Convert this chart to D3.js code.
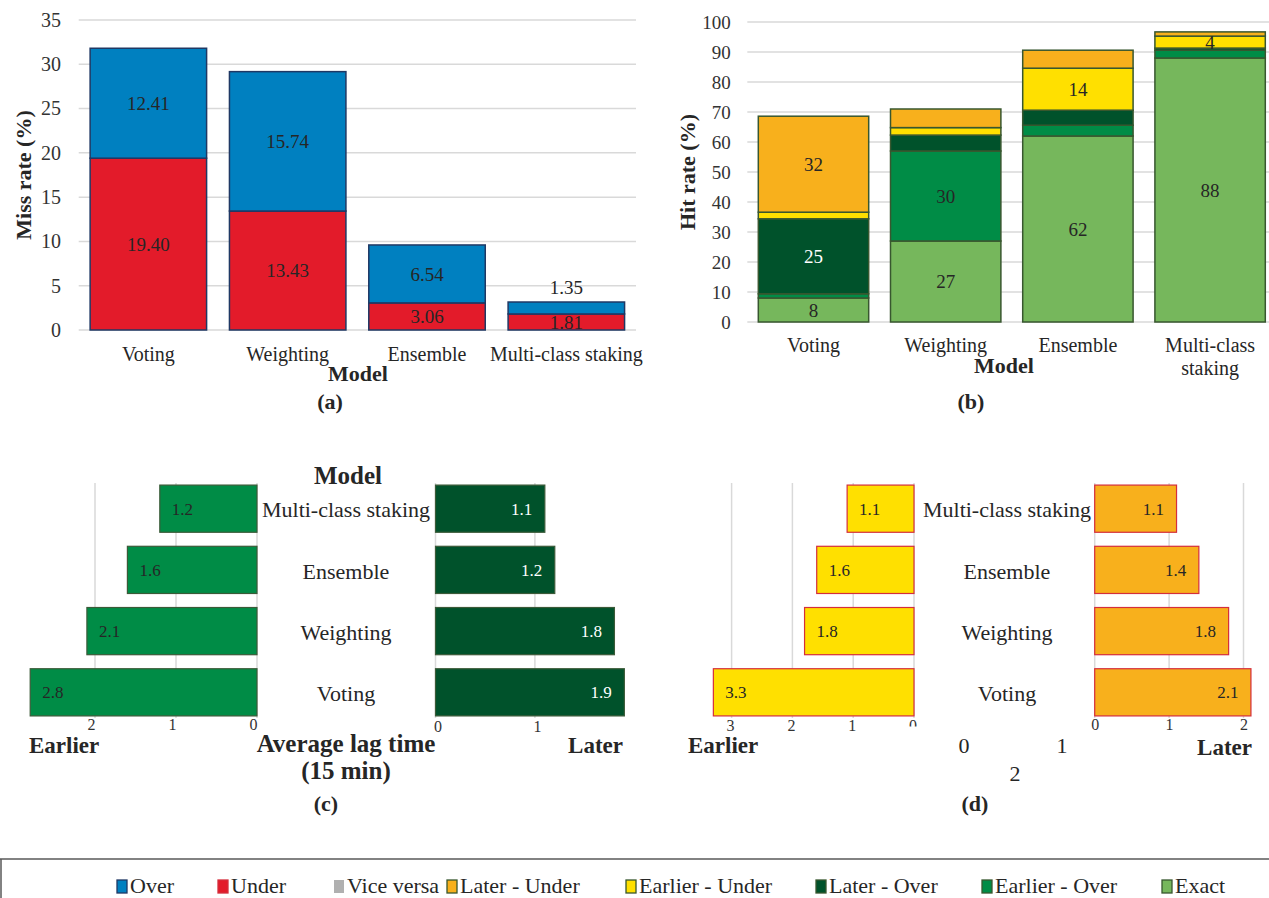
<!DOCTYPE html>
<html>
<head>
<meta charset="utf-8">
<script src="https://cdn.jsdelivr.net/npm/d3@7"></script>
<style>
  html, body { margin: 0; padding: 0; background: #fff; }
  svg { display: block; }
</style>
</head>
<body>
<svg id="fig" width="1269" height="898"></svg>
<script>
// ---------- data ----------
const models = ["Voting", "Weighting", "Ensemble", "Multi-class staking"];

// (a) miss rate, %
const missUnder = [19.40, 13.43, 3.06, 1.81];
const missOver  = [12.41, 15.74, 6.54, 1.35];
const missTicks = [0, 5, 10, 15, 20, 25, 30, 35];

// (b) hit rate, %
const hitExact        = [8, 27, 62, 88];
const hitEarlierOver  = [1.4, 30, 3.6, 2.6];
const hitLaterOver    = [25, 5.3, 5, 0.7];
const hitEarlierUnder = [2.2, 2.5, 14, 4];
const hitLaterUnder   = [32, 6.2, 6, 1.4];
const hitTicks = [0, 10, 20, 30, 40, 50, 60, 70, 80, 90, 100];
// segments that carry a value label
const hitLabelled = [
  ["Exact", "Voting"], ["Later - Over", "Voting"], ["Later - Under", "Voting"],
  ["Exact", "Weighting"], ["Earlier - Over", "Weighting"],
  ["Exact", "Ensemble"], ["Earlier - Under", "Ensemble"],
  ["Exact", "Multi-class staking"], ["Earlier - Under", "Multi-class staking"]
];

// (c), (d) average lag time, in 15-min steps
const lagEarlierOver  = [2.8, 2.1, 1.6, 1.2];
const lagLaterOver    = [1.9, 1.8, 1.2, 1.1];
const lagEarlierUnder = [3.3, 1.8, 1.6, 1.1];
const lagLaterUnder   = [2.1, 1.8, 1.4, 1.1];
const lagTicksC_left  = [0, 1, 2];
const lagTicksC_right = [0, 1];
const lagTicksD_left  = [0, 1, 2, 3];
const lagTicksD_right = [0, 1, 2];

const legendNames = ["Over", "Under", "Vice versa", "Later - Under", "Earlier - Under",
                     "Later - Over", "Earlier - Over", "Exact"];

// ---------- styles ----------
const FONT = "'Liberation Serif', 'Times New Roman', Tinos, serif";
const COL = {
  "Over": "#0080c0", "Under": "#e31b2a", "Vice versa": "#b0b0b0",
  "Later - Under": "#f8b01c", "Earlier - Under": "#ffe000",
  "Later - Over": "#00522b", "Earlier - Over": "#008c46", "Exact": "#76b75c"
};
const NAVY = "#1f3864", DKGREEN = "#38572f", CRIMSON = "#d42e3c";
const GRID = "#d9d9d9", TXT = "#262626";

const svg = d3.select("#fig").style("font-family", FONT);

function styleAxis(g, size, color) {
  g.select(".domain").remove();
  g.selectAll("line").remove();
  g.attr("font-family", null).attr("font-size", null);
  g.selectAll("text").attr("font-size", size).attr("fill", color || TXT);
}

function title(x, y, txt, opts = {}) {
  return svg.append("text")
    .attr("x", x).attr("y", y)
    .attr("text-anchor", opts.anchor || "middle")
    .attr("font-weight", opts.weight || "bold")
    .attr("font-size", opts.size || 22)
    .attr("fill", opts.fill || TXT)
    .text(txt);
}

// ---------- (a) Miss rate ----------
(function () {
  const x = d3.scaleBand().domain(models).range([78.7, 636]).paddingInner(0.164).paddingOuter(0.082);
  const y = d3.scaleLinear().domain([0, 35]).range([330, 20]);
  const g = svg.append("g");

  g.selectAll("line.grid").data(missTicks).join("line")
    .attr("x1", 78.7).attr("x2", 636)
    .attr("y1", d => y(d)).attr("y2", d => y(d))
    .attr("stroke", GRID).attr("stroke-width", 1.5);

  g.append("g").attr("transform", "translate(78.7,0)")
    .call(d3.axisLeft(y).tickValues(missTicks).tickSize(0).tickPadding(17.7))
    .call(a => styleAxis(a, 20, "#333"));

  g.append("g").attr("transform", "translate(0,330)")
    .call(d3.axisBottom(x).tickSize(0).tickPadding(16.8))
    .call(a => styleAxis(a, 20, TXT));

  const rows = models.map((m, i) => ({ model: m, Under: missUnder[i], Over: missOver[i] }));
  const series = d3.stack().keys(["Under", "Over"])(rows);

  g.selectAll("g.layer").data(series).join("g")
    .attr("fill", s => COL[s.key])
    .selectAll("rect").data(s => s).join("rect")
    .attr("x", d => x(d.data.model)).attr("width", x.bandwidth())
    .attr("y", d => y(d[1])).attr("height", d => y(d[0]) - y(d[1]))
    .attr("stroke", NAVY).attr("stroke-width", 1.5);

  const fmt = d3.format(".2f");
  series.forEach(s => {
    g.selectAll(null).data(s).join("text")
      .attr("x", d => x(d.data.model) + x.bandwidth() / 2)
      .attr("y", d => {
        const h = y(d[0]) - y(d[1]);
        return h < 14 ? y(d[1]) - 15 : (y(d[0]) + y(d[1])) / 2;
      })
      .attr("dy", "0.35em")
      .attr("text-anchor", "middle").attr("font-size", 19).attr("fill", TXT)
      .text(d => fmt(d.data[s.key]));
  });

  svg.append("text")
    .attr("transform", "translate(23,175) rotate(-90)")
    .attr("text-anchor", "middle").attr("dy", "0.35em")
    .attr("font-weight", "bold").attr("font-size", 22).attr("fill", TXT)
    .text("Miss rate (%)");
  title(358, 381, "Model");
  title(330, 409, "(a)");
})();

// ---------- (b) Hit rate ----------
(function () {
  const keys = ["Exact", "Earlier - Over", "Later - Over", "Earlier - Under", "Later - Under"];
  const cols = [hitExact, hitEarlierOver, hitLaterOver, hitEarlierUnder, hitLaterUnder];
  const x = d3.scaleBand().domain(models).range([747.4, 1276.2]).paddingInner(0.165).paddingOuter(0.0825);
  const y = d3.scaleLinear().domain([0, 100]).range([322, 22]);
  const g = svg.append("g");

  g.selectAll("line.grid").data(hitTicks).join("line")
    .attr("x1", 747.3).attr("x2", 1269)
    .attr("y1", d => y(d)).attr("y2", d => y(d))
    .attr("stroke", GRID).attr("stroke-width", 1.5);

  g.append("g").attr("transform", "translate(747.3,0)")
    .call(d3.axisLeft(y).tickValues(hitTicks).tickSize(0).tickPadding(16.6))
    .call(a => styleAxis(a, 19, "#333"));

  const xa = g.append("g").attr("transform", "translate(0,322)")
    .call(d3.axisBottom(x).tickSize(0).tickPadding(16))
    .call(a => styleAxis(a, 20, TXT));
  xa.selectAll("text").each(function (d) {
    const words = d === "Multi-class staking" ? ["Multi-class", "staking"] : [d];
    const t = d3.select(this).text(null);
    words.forEach((w, i) => t.append("tspan").attr("x", 0).attr("dy", i ? "1.15em" : null).text(w));
  });

  const rows = models.map((m, i) => {
    const r = { model: m };
    keys.forEach((k, j) => r[k] = cols[j][i]);
    return r;
  });
  const series = d3.stack().keys(keys)(rows);

  g.selectAll("g.layer").data(series).join("g")
    .attr("fill", s => COL[s.key])
    .selectAll("rect").data(s => s).join("rect")
    .attr("x", d => x(d.data.model)).attr("width", x.bandwidth())
    .attr("y", d => y(d[1])).attr("height", d => y(d[0]) - y(d[1]))
    .attr("stroke", DKGREEN).attr("stroke-width", 1.5);

  const fmt = d3.format(".0f");
  series.forEach(s => {
    const pts = s.filter(d => hitLabelled.some(p => p[0] === s.key && p[1] === d.data.model));
    g.selectAll(null).data(pts).join("text")
      .attr("x", d => x(d.data.model) + x.bandwidth() / 2)
      .attr("y", d => (y(d[0]) + y(d[1])) / 2)
      .attr("dy", "0.35em")
      .attr("text-anchor", "middle").attr("font-size", 19)
      .attr("fill", s.key === "Later - Over" ? "#ffffff" : TXT)
      .text(d => fmt(d.data[s.key]));
  });

  svg.append("text")
    .attr("transform", "translate(687,172) rotate(-90)")
    .attr("text-anchor", "middle").attr("dy", "0.35em")
    .attr("font-weight", "bold").attr("font-size", 22).attr("fill", TXT)
    .text("Hit rate (%)");
  title(1004, 373, "Model");
  title(971, 409, "(b)");
})();

// ---------- butterfly lag-time panels ----------
function butterfly(cfg) {
  const yb = d3.scaleBand().domain(models.slice().reverse()).range([483, 718])
    .paddingInner(0.229).paddingOuter(0.034);
  const g = svg.append("g");

  [[cfg.xl, cfg.ticksL], [cfg.xr, cfg.ticksR]].forEach(([sc, ticks]) => {
    g.selectAll(null).data(ticks).join("line")
      .attr("x1", d => sc(d)).attr("x2", d => sc(d))
      .attr("y1", 483).attr("y2", 718)
      .attr("stroke", GRID).attr("stroke-width", 1.5);
  });

  const rowsL = models.map((m, i) => ({ model: m, v: cfg.left[i] }));
  const rowsR = models.map((m, i) => ({ model: m, v: cfg.right[i] }));

  g.selectAll(null).data(rowsL).join("rect")
    .attr("x", d => cfg.xl(d.v)).attr("width", d => cfg.xl(0) - cfg.xl(d.v))
    .attr("y", d => yb(d.model)).attr("height", yb.bandwidth())
    .attr("fill", cfg.colL).attr("stroke", cfg.stroke).attr("stroke-width", 1.2);
  g.selectAll(null).data(rowsR).join("rect")
    .attr("x", cfg.xr(0)).attr("width", d => cfg.xr(d.v) - cfg.xr(0))
    .attr("y", d => yb(d.model)).attr("height", yb.bandwidth())
    .attr("fill", cfg.colR).attr("stroke", cfg.stroke).attr("stroke-width", 1.2);

  const fmt = d3.format(".1f");
  g.selectAll(null).data(rowsL).join("text")
    .attr("x", d => cfg.xl(d.v) + 12).attr("y", d => yb(d.model) + yb.bandwidth() / 2)
    .attr("dy", "0.35em").attr("font-size", 17).attr("fill", cfg.txtL)
    .text(d => fmt(d.v));
  g.selectAll(null).data(rowsR).join("text")
    .attr("x", d => cfg.xr(d.v) - 12.5).attr("y", d => yb(d.model) + yb.bandwidth() / 2)
    .attr("dy", "0.35em").attr("text-anchor", "end").attr("font-size", 17).attr("fill", cfg.txtR)
    .text(d => fmt(d.v));

  // model names between the two halves
  g.selectAll(null).data(models).join("text")
    .attr("x", cfg.midX).attr("y", d => yb(d) + yb.bandwidth() / 2 + 1)
    .attr("dy", "0.35em").attr("text-anchor", "middle")
    .attr("font-size", 22).attr("fill", TXT)
    .text(d => d);

  const axL = g.append("g").attr("transform", `translate(${cfg.shiftL},718)`)
    .call(d3.axisBottom(cfg.xl).tickValues(cfg.ticksL).tickFormat(d3.format("d")).tickSize(0).tickPadding(cfg.padL))
    .call(a => styleAxis(a, 16, "#333"));
  g.append("g").attr("transform", `translate(${cfg.shiftR},718)`)
    .call(d3.axisBottom(cfg.xr).tickValues(cfg.ticksR).tickFormat(d3.format("d")).tickSize(0).tickPadding(cfg.padR))
    .call(a => styleAxis(a, 16, "#333"));
  return { g, axL };
}

// (c) over-prediction lags
butterfly({
  left: lagEarlierOver, right: lagLaterOver,
  xl: d3.scaleLinear().domain([0, 3]).range([257, 14]),
  xr: d3.scaleLinear().domain([0, 2]).range([435.5, 634.3]),
  ticksL: lagTicksC_left, ticksR: lagTicksC_right,
  colL: COL["Earlier - Over"], colR: COL["Later - Over"],
  stroke: "#3b5a38", txtL: TXT, txtR: "#ffffff",
  midX: 346, shiftL: -4, shiftR: 2, padL: 0.8, padR: 2.2
});
title(348, 484, "Model", { size: 25 });
title(29, 753, "Earlier", { anchor: "start", size: 23 });
title(623, 753, "Later", { anchor: "end", size: 23 });
title(346, 752, "Average lag time", { size: 25 });
title(346, 779, "(15 min)", { size: 25 });
title(326, 811, "(c)");

// (d) under-prediction lags
const dPanel = butterfly({
  left: lagEarlierUnder, right: lagLaterUnder,
  xl: d3.scaleLinear().domain([0, 3]).range([914, 731.6]),
  xr: d3.scaleLinear().domain([0, 2]).range([1094.7, 1243.5]),
  ticksL: lagTicksD_left, ticksR: lagTicksD_right,
  colL: COL["Earlier - Under"], colR: COL["Later - Under"],
  stroke: CRIMSON, txtL: TXT, txtR: TXT,
  midX: 1007, shiftL: -1.5, shiftR: 0, padL: 1.3, padR: 1
});
// the zero label on the left axis is cut by the plot frame (clip in tick-local coordinates)
svg.append("clipPath").attr("id", "cut0").append("rect")
  .attr("x", -20).attr("y", -20).attr("width", 40).attr("height", 28.5);
dPanel.axL.selectAll(".tick").filter(d => d === 0).select("text").attr("clip-path", "url(#cut0)");
title(688, 753, "Earlier", { anchor: "start", size: 23 });
title(1252, 755, "Later", { anchor: "end", size: 23 });
title(964, 753, "0", { weight: "normal", size: 22 });
title(1062, 753, "1", { weight: "normal", size: 22 });
title(1015, 781, "2", { weight: "normal", size: 22 });
title(975, 811, "(d)");

// ---------- legend ----------
(function () {
  const g = svg.append("g");
  g.append("line").attr("x1", 0).attr("x2", 1269).attr("y1", 859).attr("y2", 859)
    .attr("stroke", "#595959").attr("stroke-width", 1.5);
  g.append("line").attr("x1", 1).attr("x2", 1).attr("y1", 859).attr("y2", 898)
    .attr("stroke", "#595959").attr("stroke-width", 1.5);
  const xs = [117, 218, 334, 447, 626, 816, 982, 1162];
  const strokes = { "Over": NAVY, "Under": CRIMSON, "Vice versa": "none" };
  const items = g.selectAll("g.item").data(legendNames).join("g")
    .attr("transform", (d, i) => `translate(${xs[i]},0)`);
  items.append("rect").attr("x", 0).attr("y", 880).attr("width", 10).attr("height", 13)
    .attr("fill", d => COL[d]).attr("stroke", d => strokes[d] || DKGREEN).attr("stroke-width", 1.3);
  items.append("text").attr("x", 13).attr("y", 892.5)
    .attr("font-size", 22).attr("fill", TXT).text(d => d);
})();

// every label in the figure uses the serif face
svg.selectAll("text").style("font-family", FONT);
</script>
</body>
</html>
